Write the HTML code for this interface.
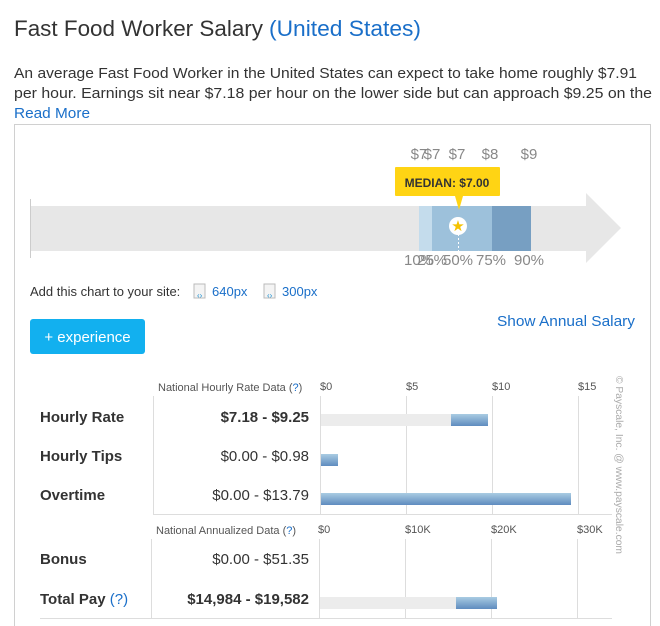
<!DOCTYPE html>
<html><head><meta charset="utf-8"><style>
html,body{margin:0;padding:0;background:#fff;width:660px;height:626px;overflow:hidden}
svg{display:block;font-family:"Liberation Sans",sans-serif}
</style></head><body>
<svg width="660" height="626" viewBox="0 0 660 626" xmlns="http://www.w3.org/2000/svg">
<defs>
<linearGradient id="g" x1="0" y1="0" x2="0" y2="1"><stop offset="0" stop-color="#a9cce2"/><stop offset="1" stop-color="#5f8cbf"/></linearGradient>
</defs>
<text x="14" y="36" font-size="22" fill="#333" textLength="249" lengthAdjust="spacingAndGlyphs">Fast Food Worker Salary</text>
<text x="269" y="36" font-size="22" fill="#1a6fc9" textLength="152" lengthAdjust="spacingAndGlyphs">(United States)</text>
<text x="14" y="78" font-size="15" fill="#333" textLength="623" lengthAdjust="spacingAndGlyphs">An average Fast Food Worker in the United States can expect to take home roughly $7.91</text>
<text x="14" y="98" font-size="15" fill="#333" textLength="638" lengthAdjust="spacingAndGlyphs">per hour. Earnings sit near $7.18 per hour on the lower side but can approach $9.25 on the</text>
<text x="14" y="118" font-size="15" fill="#1a6fc9" textLength="76" lengthAdjust="spacingAndGlyphs">Read More</text>
<rect x="14.5" y="124.5" width="636" height="520" fill="none" stroke="#d0d0d0"/>
<!-- arrow -->
<rect x="30" y="206" width="557" height="45" fill="#e7e7e7"/>
<polygon points="586,193 621,228 586,263" fill="#e7e7e7"/>
<line x1="30.5" y1="199" x2="30.5" y2="258" stroke="#ccc"/>
<rect x="419" y="206" width="13" height="45" fill="#c4dcec"/>
<rect x="432" y="206" width="60" height="45" fill="#9dc1db"/>
<rect x="492" y="206" width="39" height="45" fill="#779fc2"/>
<line x1="458.5" y1="230" x2="458.5" y2="251" stroke="#fff" stroke-dasharray="2,2"/>
<circle cx="458" cy="226" r="9" fill="#fff"/>
<text x="458" y="231" font-size="15" fill="#f5c200" text-anchor="middle">★</text>
<rect x="395" y="167" width="105" height="29" fill="#ffd414" rx="1"/>
<polygon points="455,196 463,196 459,210" fill="#ffd414"/>
<text x="447" y="187" font-size="12" font-weight="bold" fill="#333" text-anchor="middle">MEDIAN: $7.00</text>
<g font-size="15" fill="#888" text-anchor="middle">
<text x="419" y="159">$7</text><text x="432" y="159">$7</text><text x="457" y="159">$7</text><text x="490" y="159">$8</text><text x="529" y="159">$9</text>
<text x="419" y="265">10%</text><text x="432" y="265">25%</text><text x="458" y="265">50%</text><text x="491" y="265">75%</text><text x="529" y="265">90%</text>
</g>
<text x="30" y="296" font-size="13" fill="#333">Add this chart to your site:</text>
<rect x="194" y="284" width="11" height="14" fill="#f4f4f4" stroke="#bbb"/>
<text x="197" y="298" font-size="8" fill="#1a8fd0">‹›</text>
<text x="212" y="296" font-size="13" fill="#1a6fc9">640px</text>
<rect x="264" y="284" width="11" height="14" fill="#f4f4f4" stroke="#bbb"/>
<text x="267" y="298" font-size="8" fill="#1a8fd0">‹›</text>
<text x="282" y="296" font-size="13" fill="#1a6fc9">300px</text>
<rect x="30" y="319" width="115" height="35" rx="3" fill="#12b0ef"/>
<text x="87.5" y="342" font-size="15" fill="#fff" text-anchor="middle">+ experience</text>
<text x="635" y="326" font-size="15" fill="#1a6fc9" text-anchor="end" textLength="138" lengthAdjust="spacingAndGlyphs">Show Annual Salary</text>
<!-- table -->
<g stroke="#ddd">
<line x1="153.5" y1="396" x2="153.5" y2="514"/>
<line x1="151.5" y1="539" x2="151.5" y2="618"/>
<line x1="153" y1="514.5" x2="612" y2="514.5"/>
<line x1="40" y1="618.5" x2="612" y2="618.5"/>
<line x1="320.5" y1="396" x2="320.5" y2="514"/><line x1="406.5" y1="396" x2="406.5" y2="514"/><line x1="492.5" y1="396" x2="492.5" y2="514"/><line x1="578.5" y1="396" x2="578.5" y2="514"/>
<line x1="319.5" y1="539" x2="319.5" y2="618"/><line x1="405.5" y1="539" x2="405.5" y2="618"/><line x1="491.5" y1="539" x2="491.5" y2="618"/><line x1="577.5" y1="539" x2="577.5" y2="618"/>
</g>
<g font-size="11" fill="#555">
<text x="158" y="391">National Hourly Rate Data (<tspan fill="#1a6fc9">?</tspan>)</text>
<text x="156" y="534">National Annualized Data (<tspan fill="#1a6fc9">?</tspan>)</text>
<text x="320" y="390">$0</text><text x="406" y="390">$5</text><text x="492" y="390">$10</text><text x="578" y="390">$15</text>
<text x="318" y="533">$0</text><text x="405" y="533">$10K</text><text x="491" y="533">$20K</text><text x="577" y="533">$30K</text>
</g>
<g font-size="15" font-weight="bold" fill="#333">
<text x="40" y="422">Hourly Rate</text><text x="40" y="461">Hourly Tips</text><text x="40" y="500">Overtime</text>
<text x="40" y="564">Bonus</text><text x="40" y="604">Total Pay <tspan font-weight="normal" fill="#1a6fc9">(?)</tspan></text>
</g>
<g font-size="15" fill="#333" text-anchor="end">
<text x="309" y="422" font-weight="bold">$7.18 - $9.25</text>
<text x="309" y="461">$0.00 - $0.98</text>
<text x="309" y="500">$0.00 - $13.79</text>
<text x="309" y="564">$0.00 - $51.35</text>
<text x="309" y="604" font-weight="bold">$14,984 - $19,582</text>
</g>
<rect x="321" y="414" width="167" height="12" fill="#ececec"/>
<rect x="451" y="414" width="37" height="12" fill="url(#g)"/>
<rect x="321" y="454" width="17" height="12" fill="url(#g)"/>
<rect x="321" y="493" width="250" height="12" fill="url(#g)"/>
<rect x="320" y="597" width="177" height="12" fill="#ececec"/>
<rect x="456" y="597" width="41" height="12" fill="url(#g)"/>
<text transform="translate(616,376) rotate(90)" font-size="10" fill="#aaa" textLength="178" lengthAdjust="spacingAndGlyphs">© Payscale, Inc. @ www.payscale.com</text>
</svg>
</body></html>
